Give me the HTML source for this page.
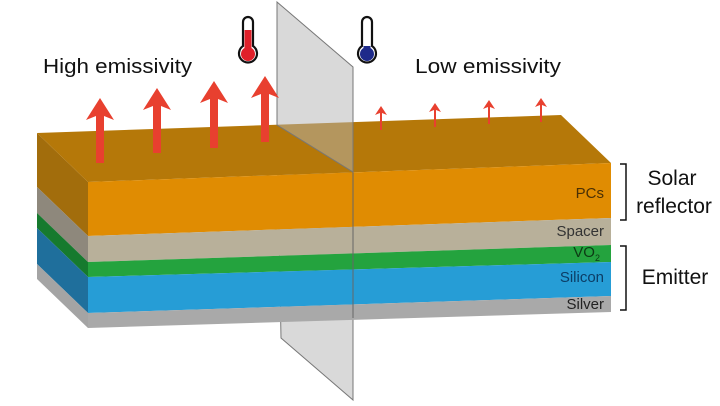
<!DOCTYPE html>
<html><head><meta charset="utf-8"><style>
html,body{margin:0;padding:0;background:#fff;}
svg{display:block;font-family:"Liberation Sans",Arial,sans-serif;}
</style></head><body>
<svg width="720" height="406" viewBox="0 0 720 406" xmlns="http://www.w3.org/2000/svg">
<polygon points="277,125 353,172 353,400 281,338" fill="#b4b4b4" fill-opacity="0.5" stroke="#777" stroke-width="1"/>
<polygon points="37,133 88,182 88,236 37,187" fill="#a26d0c"/>
<polygon points="37,187 88,236 88,262 37,213" fill="#8e887c"/>
<polygon points="37,213 88,262 88,277 37,228" fill="#167a2e"/>
<polygon points="37,228 88,277 88,313 37,264" fill="#1f6f9c"/>
<polygon points="37,264 88,313 88,328 37,279" fill="#a4a4a4"/>
<polygon points="37,133 561,115 611,163 88,182" fill="#b57809"/>
<polygon points="88,182 611,163 611,218 88,236" fill="#e08c02"/>
<polygon points="88,236 611,218 611,245 88,262" fill="#b8b09a"/>
<polygon points="88,262 611,245 611,262 88,277" fill="#24a33e"/>
<polygon points="88,277 611,262 611,296 88,313" fill="#269dd6"/>
<polygon points="88,313 611,296 611,312 88,328" fill="#a9a9a9"/>
<line x1="353" y1="172" x2="353" y2="318" stroke="#666" stroke-width="1"/>
<polygon points="277,2 353,67 353,172 277,125" fill="#b4b4b4" fill-opacity="0.5" stroke="#777" stroke-width="1"/>
<g fill="#e8402f">
<polygon points="100,98 114,120 104,116 104,163 96,163 96,116 86,120"/>
<polygon points="157,88 171,110 161,106 161,153 153,153 153,106 143,110"/>
<polygon points="214,81 228,103 218,99 218,148 210,148 210,99 200,103"/>
<polygon points="265,76 279,98 269,94 269,142 261,142 261,94 251,98"/>
<polygon points="381,106 387,115 382,113 382,130 380,130 380,113 375,115"/>
<polygon points="435,103 441,112 436,110 436,127 434,127 434,110 429,112"/>
<polygon points="489,100 495,109 490,107 490,124 488,124 488,107 483,109"/>
<polygon points="541,98 547,107 542,105 542,122 540,122 540,105 535,107"/>
</g>
<g stroke="#111" stroke-width="2.2" fill="#fff">
<path d="M243,22 a5,5 0 0 1 10,0 v24 a9,9 0 1 1 -10,0 z"/>
<path d="M362,22 a5,5 0 0 1 10,0 v24 a9,9 0 1 1 -10,0 z"/>
</g>
<path d="M244.5,30 h7 v18 a7,7 0 1 1 -7,0 z" fill="#e0202a"/>
<path d="M363.5,46 h7 v2 a7,7 0 1 1 -7,0 z" fill="#1e2a8a"/>
<text x="43" y="73" font-size="20" fill="#111" textLength="149" lengthAdjust="spacingAndGlyphs">High emissivity</text>
<text x="415" y="73" font-size="20" fill="#111" textLength="146" lengthAdjust="spacingAndGlyphs">Low emissivity</text>
<g font-size="15" text-anchor="end">
<text x="604" y="198" fill="#4a3005">PCs</text>
<text x="604" y="236" fill="#333">Spacer</text>
<text x="600" y="257" fill="#0d3a14">VO<tspan font-size="9" dy="4">2</tspan></text>
<text x="604" y="282" fill="#0c3d66">Silicon</text>
<text x="604" y="309" fill="#222">Silver</text>
</g>
<g stroke="#111" stroke-width="1.5" fill="none">
<polyline points="620,164 626,164 626,220 620,220"/>
<polyline points="620,246 626,246 626,310 620,310"/>
</g>
<g font-size="21" fill="#111" text-anchor="middle">
<text x="672" y="185">Solar</text>
<text x="674" y="213">reflector</text>
<text x="675" y="284">Emitter</text>
</g>
</svg>
</body></html>
